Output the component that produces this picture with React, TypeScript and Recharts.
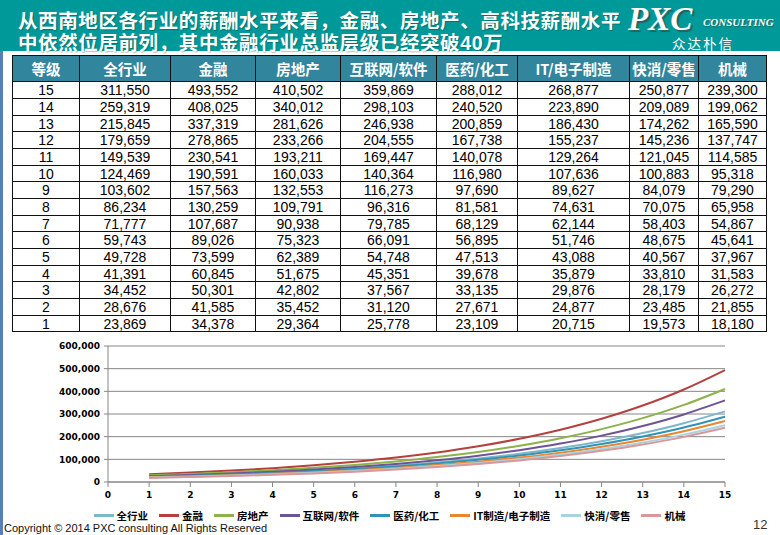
import { CartesianGrid, Legend, Line, LineChart, XAxis, YAxis } from "recharts"

// salary levels, rows from grade 15 down to 1
const grades = [15, 14, 13, 12, 11, 10, 9, 8, 7, 6, 5, 4, 3, 2, 1]
const allIndustry = [311550, 259319, 215845, 179659, 149539, 124469, 103602, 86234, 71777, 59743, 49728, 41391, 34452, 28676, 23869]
const finance = [493552, 408025, 337319, 278865, 230541, 190591, 157563, 130259, 107687, 89026, 73599, 60845, 50301, 41585, 34378]
const realEstate = [410502, 340012, 281626, 233266, 193211, 160033, 132553, 109791, 90938, 75323, 62389, 51675, 42802, 35452, 29364]
const internet = [359869, 298103, 246938, 204555, 169447, 140364, 116273, 96316, 79785, 66091, 54748, 45351, 37567, 31120, 25778]
const pharma = [288012, 240520, 200859, 167738, 140078, 116980, 97690, 81581, 68129, 56895, 47513, 39678, 33135, 27671, 23109]
const itManufacturing = [268877, 223890, 186430, 155237, 129264, 107636, 89627, 74631, 62144, 51746, 43088, 35879, 29876, 24877, 20715]
const fmcg = [250877, 209089, 174262, 145236, 121045, 100883, 84079, 70075, 58403, 48675, 40567, 33810, 28179, 23485, 19573]
const machinery = [239300, 199062, 165590, 137747, 114585, 95318, 79290, 65958, 54867, 45641, 37967, 31583, 26272, 21855, 18180]

const tableHeaders = ["等级", "全行业", "金融", "房地产", "互联网/软件", "医药/化工", "IT/电子制造", "快消/零售", "机械"]
const seriesNames = ["全行业", "金融", "房地产", "互联网/软件", "医药/化工", "IT制造/电子制造", "快消/零售", "机械"]
const xTicks = [0, 1, 2, 3, 4, 5, 6, 7, 8, 9, 10, 11, 12, 13, 14, 15]
const yTicks = [0, 100000, 200000, 300000, 400000, 500000, 600000]

const seriesValues = [allIndustry, finance, realEstate, internet, pharma, itManufacturing, fmcg, machinery]
const seriesColors = ["#7db7cc", "#b4413e", "#8db249", "#6e5495", "#3193b5", "#e8872f", "#a9d3e0", "#d9979a"]

const chartData = grades
  .map((g, i) => {
    const row: Record<string, number> = { grade: g }
    seriesValues.forEach((vals, k) => (row["s" + k] = vals[i]))
    return row
  })
  .reverse()

const fmt = (v: number) => v.toLocaleString("en-US")

const colWidths = [67, 91, 85, 85, 96, 81, 112, 69, 68]
const rowHeights = [17, 17, 16, 17, 17, 16, 17, 17, 16, 17, 17, 16, 17, 17, 16]
const cjk = "'Noto Sans CJK SC', 'Noto Sans', sans-serif"
// latin font first keeps the line boxes compact, CJK glyphs fall back to Noto
const cjkCompact = "'Liberation Sans', 'Noto Sans CJK SC', sans-serif"

function LegendContent(props: any) {
  const payload = props.payload || []
  return (
    <div
      style={{
        display: "flex",
        justifyContent: "center",
        alignItems: "center",
        height: 22,
        paddingLeft: 10,
        fontFamily: cjk,
        fontSize: 10.5,
        fontWeight: "bold",
        color: "#000",
      }}
    >
      {payload.map((entry: any) => (
        <div key={entry.value} style={{ display: "flex", alignItems: "center", marginRight: 11 }}>
          <span style={{ display: "inline-block", width: 20, height: 3, background: entry.color, marginRight: 3 }} />
          {entry.value}
        </div>
      ))}
    </div>
  )
}

const titleLine = {
  position: "absolute" as const,
  left: 18,
  height: 22,
  color: "#fff",
  fontFamily: cjkCompact,
  fontWeight: "bold" as const,
  fontSize: 19.5,
  letterSpacing: 0.6,
  lineHeight: "22px",
  textShadow: "1px 1px 1px rgba(0,0,0,0.25)",
  whiteSpace: "nowrap" as const,
}

export default function App() {
  return (
    <div style={{ position: "absolute", left: 0, top: 0, width: 780, height: 535, background: "#fff", overflow: "hidden" }}>
      {/* title band */}
      <div style={{ position: "absolute", left: 0, top: 0, width: 780, height: 51, background: "#009999" }} />
      <div style={{ ...titleLine, top: 10 }}>从西南地区各行业的薪酬水平来看，金融、房地产、高科技薪酬水平</div>
      <div style={{ ...titleLine, top: 32 }}>中依然位居前列，其中金融行业总监层级已经突破40万</div>
      <div
        style={{
          position: "absolute",
          left: 628,
          top: 0,
          color: "#fff",
          fontFamily: "'Liberation Serif', serif",
          fontStyle: "italic",
          fontWeight: "bold",
          fontSize: 33,
          lineHeight: "38px",
          textShadow: "2px 2px 1px rgba(60,60,60,0.6)",
        }}
      >
        PXC
      </div>
      <div
        style={{
          position: "absolute",
          left: 703,
          top: 16,
          color: "#fff",
          fontFamily: "'Liberation Serif', serif",
          fontStyle: "italic",
          fontWeight: "bold",
          fontSize: 11,
          lineHeight: "13px",
          textShadow: "1px 1px 1px rgba(60,60,60,0.6)",
        }}
      >
        CONSULTING
      </div>
      <div
        style={{
          position: "absolute",
          left: 672,
          top: 37,
          color: "#fff",
          fontFamily: cjkCompact,
          fontSize: 13.5,
          lineHeight: "16px",
          letterSpacing: 2,
        }}
      >
        众达朴信
      </div>
      <div style={{ position: "absolute", left: 0, top: 51, width: 3, height: 484, background: "#5a7fb5" }} />

      {/* table */}
      <div
        style={{
          position: "absolute",
          left: 12,
          top: 55,
          display: "grid",
          gridTemplateColumns: colWidths.map((w) => w + "px").join(" "),
          gridTemplateRows: ["26px", ...rowHeights.map((h) => h + "px")].join(" "),
          borderLeft: "1px solid #111",
          borderTop: "1px solid #111",
        }}
      >
        {tableHeaders.map((h) => (
          <div
            key={h}
            style={{
              boxSizing: "border-box",
              background: "#31859c",
              color: "#fff",
              fontFamily: cjk,
              fontWeight: "bold",
              fontSize: 14.5,
              borderRight: "1px solid #111",
              borderBottom: "1px solid #111",
              display: "flex",
              alignItems: "center",
              justifyContent: "center",
              whiteSpace: "nowrap",
            }}
          >
            {h}
          </div>
        ))}
        {grades.map((g, i) =>
          [g, ...seriesValues.map((vals) => vals[i])].map((v, c) => (
            <div
              key={g + "-" + c}
              style={{
                boxSizing: "border-box",
                color: "#000",
                fontFamily: "'Liberation Sans', Arial, sans-serif",
                fontSize: 14,
                borderRight: "1px solid #111",
                borderBottom: "1px solid #111",
                display: "flex",
                alignItems: "center",
                justifyContent: "center",
                lineHeight: 1,
              }}
            >
              {c === 0 ? String(v) : fmt(v)}
            </div>
          ))
        )}
      </div>

      {/* chart */}
      <div style={{ position: "absolute", left: 0, top: 335 }}>
        <LineChart width={780} height={200} data={chartData} margin={{ top: 11, right: 55, left: 0, bottom: 9 }}>
          <CartesianGrid vertical={false} stroke="#868686" />
          <XAxis
            dataKey="grade"
            type="number"
            domain={[0, 15]}
            ticks={xTicks}
            interval={0}
            height={22}
            stroke="#868686"
            tickSize={5}
            tickMargin={5}
            tick={{ fill: "#000", fontSize: 9, fontWeight: "bold", fontFamily: "'DejaVu Sans', sans-serif" }}
          />
          <YAxis
            domain={[0, 600000]}
            ticks={yTicks}
            interval={0}
            width={108}
            stroke="#868686"
            tickSize={4}
            tickMargin={4}
            tickFormatter={fmt}
            tick={{ fill: "#000", fontSize: 9, fontWeight: "bold", fontFamily: "'DejaVu Sans', sans-serif" }}
          />
          <Legend
            verticalAlign="bottom"
            height={22}
            itemSorter={(item: any) => seriesNames.indexOf(item.value)}
            content={<LegendContent />}
            wrapperStyle={{ left: 0, width: 780 }}
          />
          {seriesNames.map((name, k) => (
            <Line
              key={name}
              type="monotone"
              dataKey={"s" + k}
              name={name}
              stroke={seriesColors[k]}
              strokeWidth={2}
              dot={false}
              activeDot={false}
              isAnimationActive={false}
            />
          ))}
        </LineChart>
      </div>

      <div
        style={{
          position: "absolute",
          left: 4,
          top: 522,
          fontFamily: "'Liberation Sans', Arial, sans-serif",
          fontSize: 11,
          color: "#111",
          whiteSpace: "nowrap",
        }}
      >
        Copyright © 2014 PXC consulting All Rights Reserved
      </div>
      <div
        style={{
          position: "absolute",
          left: 753,
          top: 517,
          fontFamily: "'Liberation Sans', Arial, sans-serif",
          fontSize: 13,
          color: "#333",
        }}
      >
        12
      </div>
    </div>
  )
}
